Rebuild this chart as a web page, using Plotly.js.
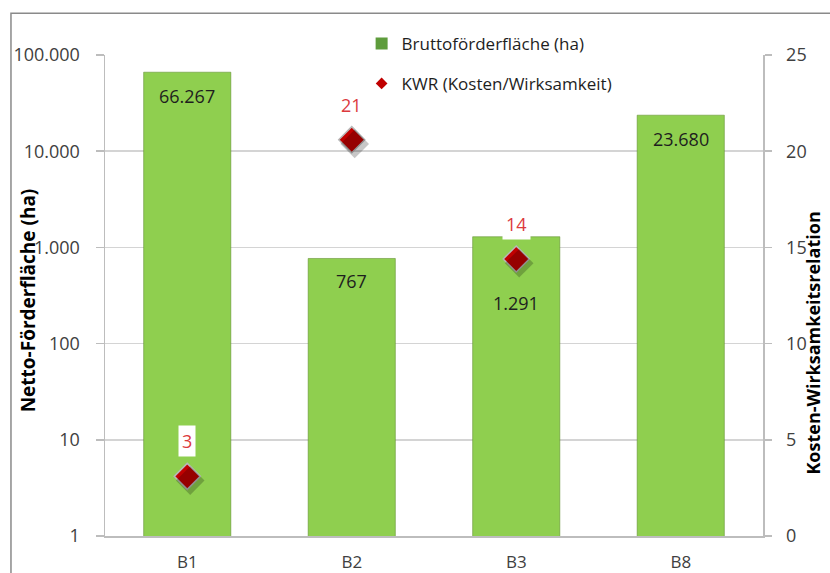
<!DOCTYPE html>
<html>
<head>
<meta charset="utf-8">
<script src="https://cdn.plot.ly/plotly-3.0.1.min.js"></script>
<style>html,body{margin:0;padding:0;background:#fff;}#chart{width:830px;height:573px;}</style>
</head>
<body>
<div id="chart"></div>
<script>
// ---- data ----
const categories = ['B1', 'B2', 'B3', 'B8'];
const bruttoValues = [66267, 767, 1291, 23680];
const bruttoLabels = ['66.267', '767', '1.291', '23.680'];
const kwrValues = [3.1, 20.6, 14.4, null];
const leftTickVals = [1, 10, 100, 1000, 10000, 100000];
const leftTickText = ['1', '10', '100', '1.000', '10.000', '100.000'];
const rightTickVals = [0, 5, 10, 15, 20, 25];

// ---- style ----
const FONT = 'Open Sans, Noto Sans, sans-serif';
const barLabelShift = [-24, -23, -66, -24];
const gridColor = '#d4d4d4';
const axisColor = '#bdbdbd';

const traces = [
  {
    type: 'bar', x: categories, y: bruttoValues, name: 'Bruttoförderfläche (ha)',
    marker: {color: '#8fcf4f', line: {color: 'rgba(95,140,45,0.55)', width: 1}},
    showlegend: false, hoverinfo: 'x+y'
  },
  // soft shadow of the diamonds (same data on slightly offset overlay axes)
  {
    type: 'scatter', mode: 'markers', x: categories, y: kwrValues, xaxis: 'x3', yaxis: 'y3',
    showlegend: false, hoverinfo: 'skip',
    marker: {symbol: 'diamond', size: 22, color: 'rgba(0,0,0,0.22)', line: {width: 0}}
  },
  {
    type: 'scatter', mode: 'markers', x: categories, y: kwrValues, yaxis: 'y2',
    name: 'KWR (Kosten/Wirksamkeit)', showlegend: false,
    marker: {symbol: 'diamond', size: 20, color: '#c00000', line: {color: '#b8b8b8', width: 1.5}}
  },
  // legend entries
  {
    type: 'bar', x: [null], y: [null], name: 'Bruttoförderfläche (ha)', legend: 'legend',
    marker: {color: '#5e9c3c'}
  },
  {
    type: 'scatter', mode: 'markers', x: [null], y: [null], yaxis: 'y2',
    name: 'KWR (Kosten/Wirksamkeit)', legend: 'legend2',
    marker: {symbol: 'diamond', size: 9, color: '#c00000'}
  }
];

const annotations = [];
categories.forEach((c, i) => {
  annotations.push({
    x: c, y: Math.log10(bruttoValues[i]), xref: 'x', yref: 'y', yshift: barLabelShift[i],
    text: bruttoLabels[i], showarrow: false, font: {family: FONT, size: 18, color: '#1e1e1e'}
  });
  if (kwrValues[i] !== null) {
    annotations.push({
      x: c, y: kwrValues[i], xref: 'x', yref: 'y2', yshift: 35,
      text: String(Math.round(kwrValues[i])), showarrow: false, bgcolor: '#ffffff',
      borderpad: 3, font: {family: FONT, size: 18, color: '#dc3a3e'}
    });
  }
});
annotations.push({
  xref: 'paper', yref: 'paper', x: -0.117, y: 0.49, xanchor: 'center', yanchor: 'middle',
  textangle: -90, showarrow: false,
  text: '<b>Netto-Förderfläche (ha)</b>', font: {family: FONT, size: 19, color: '#000'}
});
annotations.push({
  xref: 'paper', yref: 'paper', x: 1.076, y: 0.40, xanchor: 'center', yanchor: 'middle',
  textangle: -90, showarrow: false,
  text: '<b>Kosten-Wirksamkeitsrelation</b>', font: {family: FONT, size: 18, color: '#000'}
});

const layout = {
  width: 830, height: 573,
  margin: {l: 105, r: 67, t: 55, b: 37},
  paper_bgcolor: '#ffffff', plot_bgcolor: '#ffffff',
  font: {family: FONT, size: 18, color: '#404040'},
  bargap: 0.47,
  showlegend: true,
  xaxis: {
    type: 'category', range: [-0.5, 3.5], showgrid: false, showline: true, linecolor: axisColor, linewidth: 1.5,
    ticks: '', ticklabelstandoff: 10, tickfont: {size: 17, color: '#404040'}, fixedrange: true
  },
  xaxis3: {
    type: 'category', overlaying: 'x', range: [-0.518, 3.482], visible: false, fixedrange: true
  },
  yaxis: {
    type: 'log', range: [0, 5], tickvals: leftTickVals, ticktext: leftTickText,
    showgrid: true, gridcolor: gridColor, gridwidth: 1.5,
    showline: true, linecolor: axisColor, linewidth: 1.5,
    ticks: 'outside', ticklen: 8, tickcolor: axisColor, tickwidth: 1.5, ticklabelstandoff: 12,
    zeroline: false, tickfont: {size: 18, color: '#404040'}
  },
  yaxis2: {
    overlaying: 'y', side: 'right', range: [0, 25], tickvals: rightTickVals,
    showgrid: false, showline: true, linecolor: axisColor, linewidth: 1.5,
    ticks: 'outside', ticklen: 7, tickcolor: axisColor, tickwidth: 1.5, ticklabelstandoff: 11,
    zeroline: false, tickfont: {size: 18, color: '#404040'}
  },
  yaxis3: {
    overlaying: 'y', anchor: 'x3', range: [0.22, 25.22], visible: false
  },
  legend: {
    x: 0.39, xanchor: 'left', y: 1.023, yanchor: 'middle', bgcolor: '#ffffff',
    entrywidth: 215, font: {family: FONT, size: 17, color: '#1e1e1e'}
  },
  legend2: {
    x: 0.39, xanchor: 'left', y: 0.94, yanchor: 'middle', bgcolor: 'rgba(255,255,255,0)',
    font: {family: FONT, size: 17, color: '#1e1e1e'}
  },
  annotations: annotations,
  shapes: [{
    type: 'rect', xref: 'paper', yref: 'paper', x0: -0.1429, x1: 1.3, y0: -0.3, y1: 1.087,
    line: {color: '#8a8a8a', width: 1.5}, layer: 'below'
  }]
};

Plotly.newPlot('chart', traces, layout, {displayModeBar: false, staticPlot: true});
</script>
</body>
</html>
